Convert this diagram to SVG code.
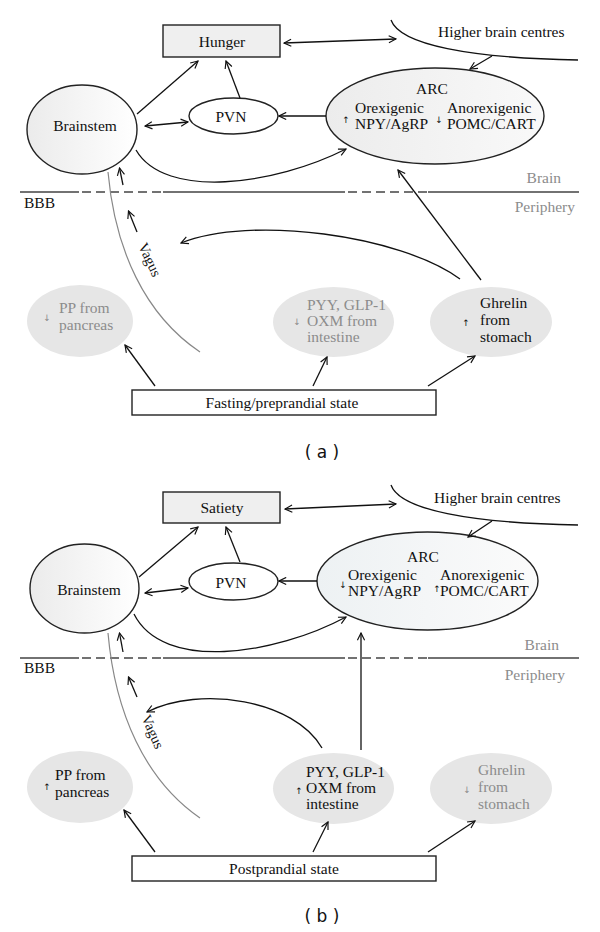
<svg xmlns="http://www.w3.org/2000/svg" width="600" height="932" viewBox="0 0 600 932">
<style>
text{font-family:"Liberation Serif","Times New Roman",serif;font-size:15.5px;fill:#111}
.g{fill:#8c8c8c}
.sm{font-family:"DejaVu Sans",sans-serif;font-size:9px}
.ln{fill:none;stroke:#111;stroke-width:1.3}
.ar{fill:none;stroke:#111;stroke-width:1.3;marker-end:url(#ah)}
.da{fill:none;stroke:#111;stroke-width:1.3;marker-end:url(#ah);marker-start:url(#ah)}
.box{fill:#efefef;stroke:#222;stroke-width:1.4}
.wbox{fill:#fff;stroke:#222;stroke-width:1.4}
.el{stroke:#222;stroke-width:1.4}
.per{fill:#e6e6e6;stroke:none}
.bbb{stroke:#444;stroke-width:1.5;fill:none}
.dash{stroke:#444;stroke-width:1.5;stroke-dasharray:9 5;fill:none}
.vag{fill:none;stroke:#888;stroke-width:1.2}
.lbl{font-family:"DejaVu Sans",sans-serif;font-size:17px}
</style>
<defs>
<marker id="ah" viewBox="0 0 10 10" refX="9" refY="5" markerWidth="9" markerHeight="9" markerUnits="userSpaceOnUse" orient="auto-start-reverse">
<path d="M1,1 L9,5 L1,9" fill="none" stroke="#111" stroke-width="1.3"/>
</marker>
<linearGradient id="gb" x1="0" y1="0" x2="1" y2="0">
<stop offset="0" stop-color="#ebebeb"/><stop offset="1" stop-color="#ffffff"/>
</linearGradient>
<linearGradient id="ga" x1="0" y1="0" x2="1" y2="0">
<stop offset="0" stop-color="#ececec"/><stop offset="1" stop-color="#f9f9f9"/>
</linearGradient>
<linearGradient id="ga2" x1="0" y1="0" x2="1" y2="0">
<stop offset="0" stop-color="#edf1f3"/><stop offset="1" stop-color="#fbfbfb"/>
</linearGradient>
</defs>

<!-- ===== Panel (a) ===== -->
<g id="a-boundary">
<path class="bbb" d="M20,192 H79 M163,192 H345 M428,192 H579"/>
<path class="dash" d="M82,192 H163 M348,192 H428"/>
<text x="24" y="208">BBB</text>
<text class="g" x="561" y="183" text-anchor="end">Brain</text>
<text class="g" x="575" y="212" text-anchor="end">Periphery</text>
</g>
<g id="a-higher">
<path class="ln" d="M391,20 C400,45 470,58 578,60"/>
<text x="438" y="37">Higher brain centres</text>
</g>
<g id="a-hunger">
<rect class="box" x="163" y="25" width="117" height="32"/>
<text x="222" y="47" text-anchor="middle">Hunger</text>
</g>
<g id="a-brainstem">
<ellipse class="el" cx="82" cy="129.5" rx="55" ry="44.5" fill="url(#gb)"/>
<text x="85" y="131" text-anchor="middle">Brainstem</text>
</g>
<g id="a-pvn">
<ellipse class="el" cx="233.5" cy="116" rx="44.5" ry="18" fill="#fff"/>
<text x="231" y="122" text-anchor="middle">PVN</text>
</g>
<g id="a-arc">
<ellipse class="el" cx="435" cy="116" rx="109" ry="48" fill="url(#ga)"/>
<text x="432" y="94" text-anchor="middle">ARC</text>
<text class="sm" x="346" y="123" text-anchor="middle">↑</text>
<text x="355" y="113">Orexigenic</text>
<text x="355" y="129">NPY/AgRP</text>
<text class="sm" x="439" y="123" text-anchor="middle">↓</text>
<text x="447" y="113">Anorexigenic</text>
<text x="447" y="129">POMC/CART</text>
</g>
<g id="a-pp">
<ellipse class="per" cx="80" cy="321" rx="53" ry="36"/>
<text class="sm g" x="47" y="321" text-anchor="middle">↓</text>
<text class="g" x="59" y="313">PP from</text>
<text class="g" x="59" y="330">pancreas</text>
</g>
<g id="a-intestine">
<ellipse class="per" cx="333.5" cy="322" rx="60.5" ry="35"/>
<text class="sm g" x="297" y="325" text-anchor="middle">↓</text>
<text class="g" x="307" y="310">PYY, GLP-1</text>
<text class="g" x="307" y="326">OXM from</text>
<text class="g" x="307" y="342">intestine</text>
</g>
<g id="a-ghrelin">
<ellipse class="per" cx="491" cy="322" rx="61" ry="35"/>
<text class="sm" x="466" y="326" text-anchor="middle">↑</text>
<text x="480" y="308">Ghrelin</text>
<text x="480" y="325">from</text>
<text x="480" y="342">stomach</text>
</g>
<g id="a-state">
<rect class="wbox" x="132" y="390" width="304" height="25"/>
<text x="282" y="408" text-anchor="middle">Fasting/preprandial state</text>
</g>
<g id="a-vagus">
<path class="vag" d="M108,172 C115,250 145,315 200,352"/>
<text transform="translate(149,260) rotate(65)" text-anchor="middle" dy="4" style="font-size:14.5px">Vagus</text>
</g>
<text class="lbl" x="322" y="458" text-anchor="middle">( a )</text>

<g id="a-connectors">
<path class="ar" d="M137,114 L198,61"/>
<path class="ar" d="M240,98 L226,61"/>
<path class="da" d="M145,126 L188,122"/>
<path class="ar" d="M326,116 L279,116"/>
<path class="da" d="M284,43 L396,39"/>
<path class="ar" d="M492,56 L470,69"/>
<path class="ar" d="M136,150 C165,200 275,185 346,149"/>
<path class="ar" d="M123,185 L119.5,168"/>
<path class="ar" d="M137,232 L128.5,211"/>
<path class="ar" d="M460,279 C400,235 250,215 181,243"/>
<path class="ar" d="M481,280 L398,170"/>
<path class="ar" d="M155,386 L125,345"/>
<path class="ar" d="M313,386 L327,357"/>
<path class="ar" d="M428,386 L475,356"/>
</g>

<!-- ===== Panel (b) ===== -->
<g id="b-boundary">
<path class="bbb" d="M20,658 H79 M163,658 H345 M428,658 H579"/>
<path class="dash" d="M82,658 H163 M348,658 H428"/>
<text x="24" y="673">BBB</text>
<text class="g" x="559" y="650" text-anchor="end">Brain</text>
<text class="g" x="565" y="680" text-anchor="end">Periphery</text>
</g>
<g id="b-higher">
<path class="ln" d="M391,485 C400,510 470,523 578,525"/>
<text x="434" y="503">Higher brain centres</text>
</g>
<g id="b-satiety">
<rect class="box" x="163" y="492" width="117" height="31"/>
<text x="222" y="513" text-anchor="middle">Satiety</text>
</g>
<g id="b-brainstem">
<ellipse class="el" cx="84.5" cy="588.5" rx="54.5" ry="44.5" fill="url(#gb)"/>
<text x="89" y="595" text-anchor="middle">Brainstem</text>
</g>
<g id="b-pvn">
<ellipse class="el" cx="233.5" cy="581.5" rx="44.5" ry="18.5" fill="#fff"/>
<text x="231" y="588" text-anchor="middle">PVN</text>
</g>
<g id="b-arc">
<ellipse class="el" cx="427.5" cy="581" rx="110.5" ry="49" fill="url(#ga2)"/>
<text x="423" y="562" text-anchor="middle">ARC</text>
<text class="sm" x="343" y="588" text-anchor="middle">↓</text>
<text x="348" y="580">Orexigenic</text>
<text x="348" y="596">NPY/AgRP</text>
<text class="sm" x="437" y="592" text-anchor="middle">↑</text>
<text x="440" y="580">Anorexigenic</text>
<text x="440" y="596">POMC/CART</text>
</g>
<g id="b-pp">
<ellipse class="per" cx="80" cy="787" rx="53" ry="36"/>
<text class="sm" x="47" y="790" text-anchor="middle">↑</text>
<text x="55" y="780">PP from</text>
<text x="55" y="797">pancreas</text>
</g>
<g id="b-intestine">
<ellipse class="per" cx="333.5" cy="788.5" rx="60.5" ry="35.5"/>
<text class="sm" x="299" y="794" text-anchor="middle">↑</text>
<text x="306" y="777">PYY, GLP-1</text>
<text x="306" y="793">OXM from</text>
<text x="306" y="809">intestine</text>
</g>
<g id="b-ghrelin">
<ellipse class="per" cx="491" cy="788.5" rx="61" ry="35.5"/>
<text class="sm g" x="467" y="793" text-anchor="middle">↓</text>
<text class="g" x="478" y="775">Ghrelin</text>
<text class="g" x="478" y="792">from</text>
<text class="g" x="478" y="809">stomach</text>
</g>
<g id="b-state">
<rect class="wbox" x="132" y="856" width="304" height="25"/>
<text x="284" y="874" text-anchor="middle">Postprandial state</text>
</g>
<g id="b-vagus">
<path class="vag" d="M108,633 C115,713 145,780 200,818"/>
<text transform="translate(152,732) rotate(66)" text-anchor="middle" dy="4" style="font-size:14.5px">Vagus</text>
</g>
<text class="lbl" x="322" y="922" text-anchor="middle">( b )</text>

<g id="b-connectors">
<path class="ar" d="M139,577 L198,527"/>
<path class="ar" d="M240,562 L226,527"/>
<path class="da" d="M145,593 L188,588"/>
<path class="ar" d="M317,581 L279,581"/>
<path class="da" d="M285,509 L396,504"/>
<path class="ar" d="M492,521 L468,537"/>
<path class="ar" d="M134,614 C163,672 275,655 346,617"/>
<path class="ar" d="M123,652 L119.5,633"/>
<path class="ar" d="M137,697 L128.5,677"/>
<path class="ar" d="M322,748 C295,700 200,685 147,712"/>
<path class="ar" d="M361,750 L361,633"/>
<path class="ar" d="M155,852 L124,810"/>
<path class="ar" d="M313,852 L328,822"/>
<path class="ar" d="M428,852 L475,821"/>
</g>
</svg>
